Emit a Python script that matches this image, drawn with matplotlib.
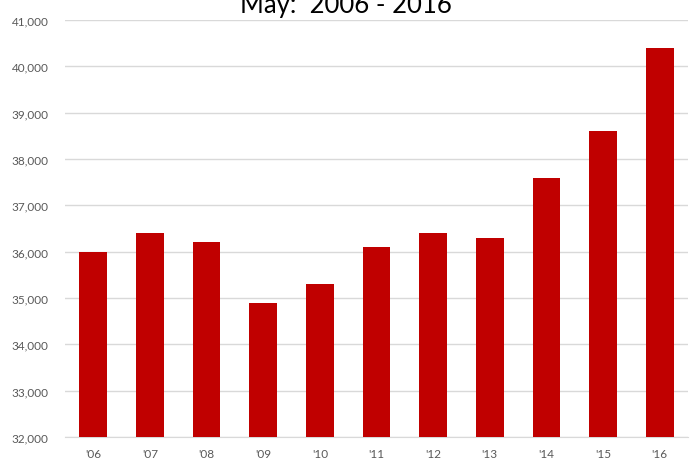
import matplotlib
matplotlib.use("Agg")
import matplotlib.pyplot as plt
from matplotlib.ticker import FuncFormatter

years = ["'06", "'07", "'08", "'09", "'10", "'11", "'12", "'13", "'14", "'15", "'16"]
values = [36000, 36400, 36200, 34900, 35300, 36100, 36400, 36300, 37600, 38600, 40400]
title = "May:  2006 - 2016"

plt.rcParams['font.family'] = ['Lato', 'DejaVu Sans']
fig = plt.figure(figsize=(6.92, 4.60), dpi=100)
ax = fig.add_axes([65/692, 1-438/460, 623/692, 417/460])

x = range(len(years))
ax.bar(x, values, width=0.49, color='#C00000', zorder=3)
ax.set_xlim(-0.5, len(years)-0.5)
ax.set_ylim(32000, 41000)
ax.set_yticks(range(32000, 41001, 1000))
ax.yaxis.set_major_formatter(FuncFormatter(lambda v, p: f"{int(v):,}"))
ax.set_xticks(list(x))
ax.set_xticklabels(years)
ax.grid(axis='y', color='#D9D9D9', linewidth=1, zorder=0)
for s in ['top', 'right', 'left']:
    ax.spines[s].set_visible(False)
ax.spines['bottom'].set_color('#D9D9D9')
ax.tick_params(axis='both', length=0, labelsize=8.5, colors='#595959')
ax.tick_params(axis='x', pad=8)
ax.tick_params(axis='y', pad=12)

fig.text(0.5, 1-12.5/460, title, ha='center', va='baseline', fontsize=18.5, color='black')
fig.savefig("out.png", dpi=100)
